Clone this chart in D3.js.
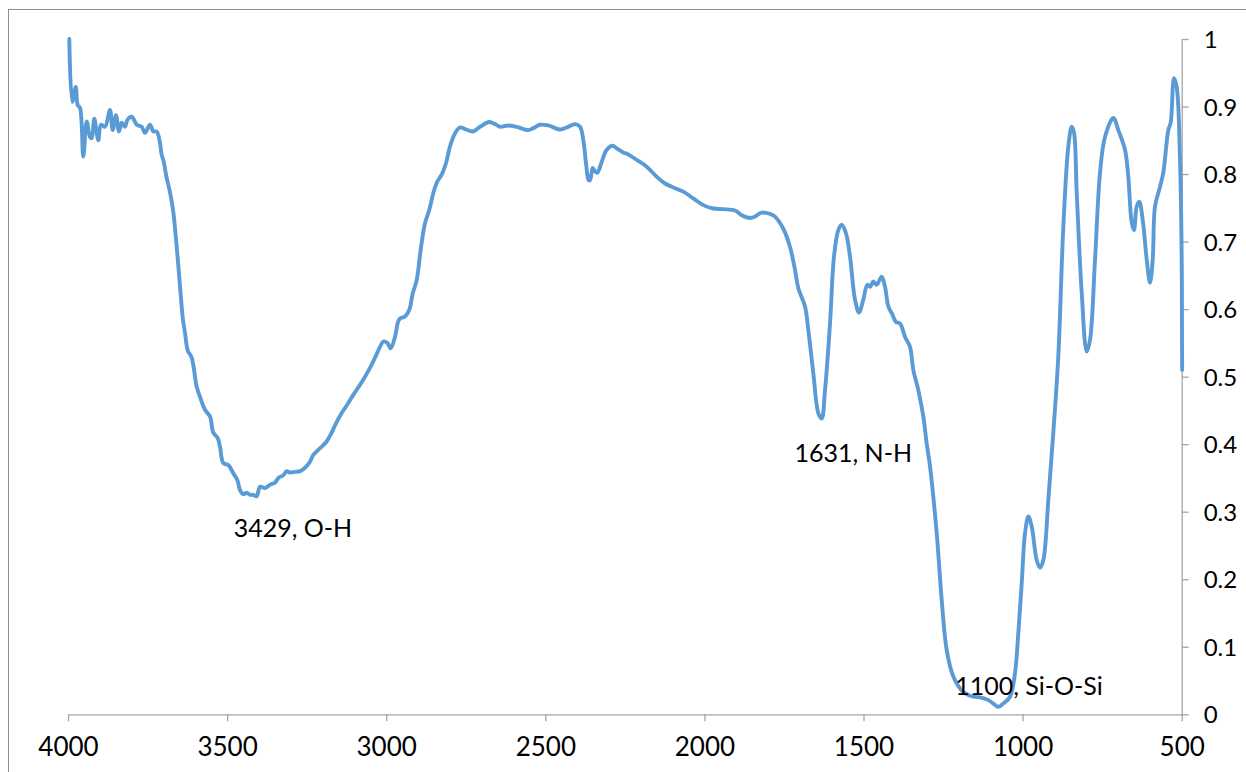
<!DOCTYPE html>
<html>
<head>
<meta charset="utf-8">
<script src="https://cdn.jsdelivr.net/npm/d3@7"></script>
<style>
  html, body { margin: 0; padding: 0; background: #fff; }
  svg { display: block; }
</style>
</head>
<body>
<svg id="chart" width="1246" height="772"></svg>
<script>
// ---- data ----
const wavenumber = [
  3996,3986.5,3975.8,3969.5,3962.3,3951.9,3941.2,3930.9,3925.5,3917.3,3904.8,3896.3,3883.7,3868,3859.5,3849.2,3839.7,3831.2,3820.9,3813.6,3799.8,3784.1,3768.4,3758,3742.3,3731.9,3721.2,3710.9,3705.5,3700.5,3689.8,
  3679.4,3670,3663.7,3654.3,3645.8,3638.6,3632.3,3623.8,3611.2,3595.5,3585.2,3569.5,3553.7,3543.4,3529.5,3522.3,3511.9,3496.2,3480.5,3467.9,3459.5,3449.1,3438.4,3428,3417.6,3406.9,3396.6,3380.9,3365.2,3349.5,3339.1,3323.4,3312.7,3302.3,3286.6,3270.9,3255.2,3239.5,3229.1,3208,3187,3171.3,3160.9,3139.9,3119.1,3103.4,3082.3,3066.6,3050.9,3035.2,3019.5,3009.1,2996.5,2985.9,2972.3,2962.9,
  2956.6,2940.9,2927.4,2916.7,2904.1,2891.6,2878.1,2864.5,2851.9,2839.4,2825.6,2812.1,2799.5,2783.8,2768.1,2749.2,2728.1,2705.2,2676,2658.1,2642.4,2616.3,2589.9,2553.4,2537.7,2516.6,2490.6,2453.8,2432.7,2406.6,2390.9,2380.5,2371.1,2364.2,2359.5,2351,2343.8,2336.6,2322.8,2307,2288.2,2275.6,2254.9,2239.1,2212.7,2181.3,2149.9,2123.8,2092.4,2066.3,2034.9,2003.4,1972,1940.6,1903.8,1882.8,1856.7,1841,1819.9,1793.8,1778.1,1752,1730.9,1715.3,1704.8,1683.8,1673.4,1657.7,1642,1631.3,1620.9,1605.2,1592.7,1579.2,1568.5,1555,1542.4,1526.7,1514.1,1500.6,1488,1479.5,1469.2,1458.5,1442.8,1432.4,1422,1411.3,1397.8,1385.3,1369.6,1353.8,1343.5,1327.8,1312,1301.4,1290.9,1269.9,1254.2,1238.5,1217.8,1186.4,1154.9,1133.9,1107.8,1086.7,1076.3,1060.6,1039.6,1023.9,1013.5,1002.8,992.4,982,971.4,955.6,945.3,934.9,919.2,903.5,887.8,872,856.3,845.6,838.4,829.9,814.2,798.5,788.2,772.4,756.7,741,714.9,699.2,678.2,667.8,657.1,649.9,641.4,633.2,622.5,609.9,599.6,591.1,583.9,568.2,557.8,542.1,534.6,524.2,515.7,505.3,500,499,498.6
];
const absorbance = [
  1.0,0.907,0.929,0.902,0.898,0.826,0.878,0.855,0.853,0.882,0.850,0.873,0.870,0.895,0.865,0.887,0.863,0.876,0.870,0.880,0.885,0.873,0.870,0.861,0.873,0.863,0.863,0.846,0.828,0.821,0.794,
  0.773,0.747,0.720,0.670,0.621,0.584,0.565,0.539,0.528,0.485,0.470,0.451,0.441,0.417,0.409,0.396,0.372,0.369,0.357,0.347,0.332,0.326,0.328,0.325,0.325,0.323,0.337,0.335,0.340,0.343,0.350,0.354,0.360,0.358,0.359,0.360,0.365,0.374,0.384,0.394,0.404,0.417,0.428,0.446,0.461,0.473,0.488,0.500,0.513,0.528,0.544,0.552,0.550,0.542,0.559,0.581,
  0.586,0.589,0.599,0.623,0.643,0.688,0.727,0.747,0.772,0.789,0.799,0.816,0.841,0.860,0.869,0.866,0.863,0.870,0.877,0.874,0.870,0.872,0.870,0.865,0.868,0.873,0.872,0.866,0.869,0.874,0.870,0.850,0.812,0.791,0.791,0.809,0.804,0.802,0.818,0.836,0.842,0.838,0.832,0.829,0.821,0.811,0.796,0.786,0.779,0.774,0.764,0.754,0.749,0.748,0.746,0.739,0.735,0.737,0.743,0.741,0.737,0.719,0.692,0.658,0.631,0.604,0.569,0.505,0.446,0.438,0.480,0.579,0.678,0.717,0.725,0.712,0.678,0.614,0.595,0.614,0.636,0.633,0.641,0.636,0.648,0.633,0.604,0.594,0.581,0.579,0.559,0.544,0.510,0.480,0.441,0.401,0.367,0.268,0.169,0.095,0.056,0.033,0.026,0.025,0.021,0.014,0.011,0.016,0.026,0.061,0.120,0.194,0.268,0.293,0.278,0.228,0.217,0.228,0.317,0.417,0.530,0.722,0.841,0.870,0.861,0.772,0.624,0.537,0.554,0.673,0.802,0.855,0.883,0.865,0.836,0.796,0.728,0.717,0.752,0.759,0.732,0.673,0.639,0.673,0.752,0.781,0.802,0.865,0.876,0.942,0.929,0.821,0.673,0.55,0.51
];
const xTickValues = [4000, 3500, 3000, 2500, 2000, 1500, 1000, 500];
const yTickValues = [0, 0.1, 0.2, 0.3, 0.4, 0.5, 0.6, 0.7, 0.8, 0.9, 1];
const labelTexts = ["3429, O-H", "1631, N-H", "1100, Si-O-Si"];
const labelWavenumbers = [3293, 1532, 980];
const labelValues = [0.263, 0.374, 0.029];

// ---- drawing ----
const svg = d3.select("#chart");
const FONT = "Lato, 'Open Sans', sans-serif";

// outer chart frame
svg.append("rect")
  .attr("x", 8.5).attr("y", 9.5)
  .attr("width", 1300).attr("height", 800)
  .attr("fill", "none").attr("stroke", "#8c8c8c").attr("stroke-width", 1);

const x = d3.scaleLinear().domain([4000, 500]).range([68, 1181.7]);
const y = d3.scaleLinear().domain([0, 1]).range([714.3, 39]);

// x axis
const gx = svg.append("g").attr("transform", `translate(0,${y(0)})`)
  .call(d3.axisBottom(x).tickValues(xTickValues).tickSize(7).tickSizeOuter(0).tickFormat(d3.format("d")));
gx.select(".domain").attr("stroke", "#a6a6a6").attr("stroke-width", 1.3);
gx.selectAll(".tick line").attr("stroke", "#a6a6a6").attr("stroke-width", 1.3);
gx.selectAll(".tick text")
  .attr("y", 42).attr("dy", 0)
  .attr("fill", "#000").style("font-family", FONT).style("font-size", "26px");

// y axis (on the right)
const gy = svg.append("g").attr("transform", `translate(${x(500)},0)`)
  .call(d3.axisRight(y).tickValues(yTickValues).tickSize(7).tickSizeOuter(0).tickPadding(15).tickFormat(d3.format("~g")));
gy.select(".domain").attr("stroke", "#a6a6a6").attr("stroke-width", 1.3);
gy.selectAll(".tick line").attr("stroke", "#a6a6a6").attr("stroke-width", 1.3);
gy.selectAll(".tick text")
  .attr("dy", "0.36em")
  .attr("fill", "#000").style("font-family", FONT).style("font-size", "24px");

// spectrum line
const pts = d3.zip(wavenumber, absorbance);
const line = d3.line()
  .x(d => x(d[0]))
  .y(d => y(d[1]))
  .curve(d3.curveCatmullRom.alpha(0.5));
svg.append("path")
  .datum(pts)
  .attr("d", line)
  .attr("fill", "none")
  .attr("stroke", "#5b9bd5")
  .attr("stroke-width", 3.9)
  .attr("stroke-linejoin", "round")
  .attr("stroke-linecap", "round");

// annotations
svg.append("g").selectAll("text")
  .data(d3.zip(labelTexts, labelWavenumbers, labelValues))
  .join("text")
  .attr("x", d => x(d[1]))
  .attr("y", d => y(d[2]))
  .attr("text-anchor", "middle")
  .attr("fill", "#000")
  .style("font-family", FONT)
  .style("font-size", "25px")
  .text(d => d[0]);
</script>
</body>
</html>
